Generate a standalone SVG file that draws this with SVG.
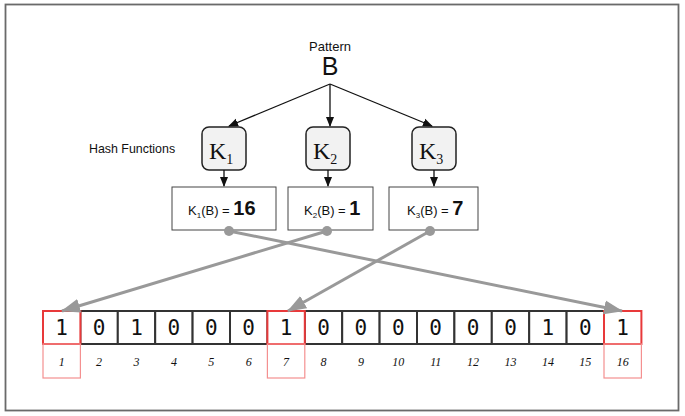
<svg xmlns="http://www.w3.org/2000/svg" width="685" height="416" viewBox="0 0 685 416">
<defs>
<style>
.lbl{font-family:"Liberation Sans",Arial,sans-serif;fill:#111}
.kf{font-family:"Liberation Serif","Times New Roman",serif;fill:#111}
.hbox{fill:#f2f2f2;stroke:#222;stroke-width:1.5}
.rbox{fill:#fff;stroke:#444;stroke-width:1}
.cell{fill:#fff;stroke:#333;stroke-width:2}
.cellr{fill:#fff;stroke:#e8393a;stroke-width:2}
.idxr{fill:none;stroke:#f49090;stroke-width:1.2}
.bit{font-family:"DejaVu Sans Mono",monospace;font-size:21px;fill:#111;text-anchor:middle}
.idx{font-family:"Liberation Serif","Times New Roman",serif;font-style:italic;font-size:12px;fill:#111;text-anchor:middle}
.blk{stroke:#111;stroke-width:1.3;fill:none}
.gry{stroke:#999;stroke-width:3;fill:none}
</style>
<marker id="ab" markerWidth="10" markerHeight="10" refX="9" refY="5" orient="auto" markerUnits="userSpaceOnUse"><path d="M0,1 L10,5 L0,9 z" fill="#111"/></marker>
<marker id="ag" markerWidth="20" markerHeight="16" refX="18" refY="8" orient="auto" markerUnits="userSpaceOnUse"><path d="M0,1 L19,8 L0,15 z" fill="#999"/></marker>
</defs>
<rect x="5.5" y="4.5" width="673" height="406" fill="#fff" stroke="#6a6a6a" stroke-width="1.8"/>

<g id="pattern">
<text class="lbl" x="330" y="51" font-size="13" text-anchor="middle">Pattern</text>
<text class="lbl" x="330" y="75" font-size="25" text-anchor="middle">B</text>
</g>
<text class="lbl" x="89" y="153" font-size="12.4">Hash Functions</text>

<g id="k1"><rect class="hbox" x="202" y="127" width="44" height="43" rx="7"/><text class="kf" x="209" y="159" font-size="24">K<tspan font-size="14" dy="5">1</tspan></text></g>
<g id="k2"><rect class="hbox" x="306" y="127" width="44" height="43" rx="7"/><text class="kf" x="313" y="159" font-size="24">K<tspan font-size="14" dy="5">2</tspan></text></g>
<g id="k3"><rect class="hbox" x="412" y="127" width="44" height="43" rx="7"/><text class="kf" x="419" y="159" font-size="24">K<tspan font-size="14" dy="5">3</tspan></text></g>

<g id="r1"><rect class="rbox" x="172" y="187" width="104" height="43"/><text class="lbl" x="188" y="215" font-size="13">K<tspan font-size="8" dy="3">1</tspan><tspan dy="-3">(B) = </tspan><tspan font-size="20" font-weight="bold">16</tspan></text></g>
<g id="r2"><rect class="rbox" x="288" y="187" width="85" height="43"/><text class="lbl" x="304" y="215" font-size="13">K<tspan font-size="8" dy="3">2</tspan><tspan dy="-3">(B) = </tspan><tspan font-size="20" font-weight="bold">1</tspan></text></g>
<g id="r3"><rect class="rbox" x="389" y="187" width="89" height="43"/><text class="lbl" x="407" y="215" font-size="13">K<tspan font-size="8" dy="3">3</tspan><tspan dy="-3">(B) = </tspan><tspan font-size="20" font-weight="bold">7</tspan></text></g>

<g id="bits">
<rect class="cell" x="80.4" y="311" width="37.4" height="33"/>
<rect class="cell" x="117.8" y="311" width="37.4" height="33"/>
<rect class="cell" x="155.2" y="311" width="37.4" height="33"/>
<rect class="cell" x="192.6" y="311" width="37.4" height="33"/>
<rect class="cell" x="230" y="311" width="37.4" height="33"/>
<rect class="cell" x="304.8" y="311" width="37.4" height="33"/>
<rect class="cell" x="342.2" y="311" width="37.4" height="33"/>
<rect class="cell" x="379.6" y="311" width="37.4" height="33"/>
<rect class="cell" x="417" y="311" width="37.4" height="33"/>
<rect class="cell" x="454.4" y="311" width="37.4" height="33"/>
<rect class="cell" x="491.8" y="311" width="37.4" height="33"/>
<rect class="cell" x="529.2" y="311" width="37.4" height="33"/>
<rect class="cell" x="566.6" y="311" width="37.4" height="33"/>
<rect class="cellr" x="43" y="311" width="37.4" height="33"/>
<rect class="cellr" x="267.4" y="311" width="37.4" height="33"/>
<rect class="cellr" x="604" y="311" width="37.4" height="33"/>
<rect class="idxr" x="43" y="344" width="37.4" height="34"/>
<rect class="idxr" x="267.4" y="344" width="37.4" height="34"/>
<rect class="idxr" x="604" y="344" width="37.4" height="34"/>
<text class="bit" x="61.7" y="335">1</text>
<text class="bit" x="99.1" y="335">0</text>
<text class="bit" x="136.5" y="335">1</text>
<text class="bit" x="173.9" y="335">0</text>
<text class="bit" x="211.3" y="335">0</text>
<text class="bit" x="248.7" y="335">0</text>
<text class="bit" x="286.1" y="335">1</text>
<text class="bit" x="323.5" y="335">0</text>
<text class="bit" x="360.9" y="335">0</text>
<text class="bit" x="398.3" y="335">0</text>
<text class="bit" x="435.7" y="335">0</text>
<text class="bit" x="473.1" y="335">0</text>
<text class="bit" x="510.5" y="335">0</text>
<text class="bit" x="547.9" y="335">1</text>
<text class="bit" x="585.3" y="335">0</text>
<text class="bit" x="622.7" y="335">1</text>
<text class="idx" x="61.7" y="366">1</text>
<text class="idx" x="99.1" y="366">2</text>
<text class="idx" x="136.5" y="366">3</text>
<text class="idx" x="173.9" y="366">4</text>
<text class="idx" x="211.3" y="366">5</text>
<text class="idx" x="248.7" y="366">6</text>
<text class="idx" x="286.1" y="366">7</text>
<text class="idx" x="323.5" y="366">8</text>
<text class="idx" x="360.9" y="366">9</text>
<text class="idx" x="398.3" y="366">10</text>
<text class="idx" x="435.7" y="366">11</text>
<text class="idx" x="473.1" y="366">12</text>
<text class="idx" x="510.5" y="366">13</text>
<text class="idx" x="547.9" y="366">14</text>
<text class="idx" x="585.3" y="366">15</text>
<text class="idx" x="622.7" y="366">16</text>
</g>

<g id="connectors">
<line class="blk" x1="330" y1="84" x2="229" y2="126" marker-end="url(#ab)"/>
<line class="blk" x1="330" y1="84" x2="330" y2="126" marker-end="url(#ab)"/>
<line class="blk" x1="330" y1="84" x2="432" y2="126" marker-end="url(#ab)"/>
<line class="blk" x1="224" y1="170" x2="224" y2="186" marker-end="url(#ab)"/>
<line class="blk" x1="328" y1="170" x2="328" y2="186" marker-end="url(#ab)"/>
<line class="blk" x1="434" y1="170" x2="434" y2="186" marker-end="url(#ab)"/>
<line class="gry" x1="229" y1="231" x2="622" y2="311" marker-end="url(#ag)"/>
<line class="gry" x1="327" y1="231" x2="62" y2="311" marker-end="url(#ag)"/>
<line class="gry" x1="430" y1="231" x2="288" y2="311" marker-end="url(#ag)"/>
<circle cx="229" cy="231" r="5" fill="#999"/>
<circle cx="327" cy="231" r="5" fill="#999"/>
<circle cx="430" cy="231" r="5" fill="#999"/>
</g>
</svg>
